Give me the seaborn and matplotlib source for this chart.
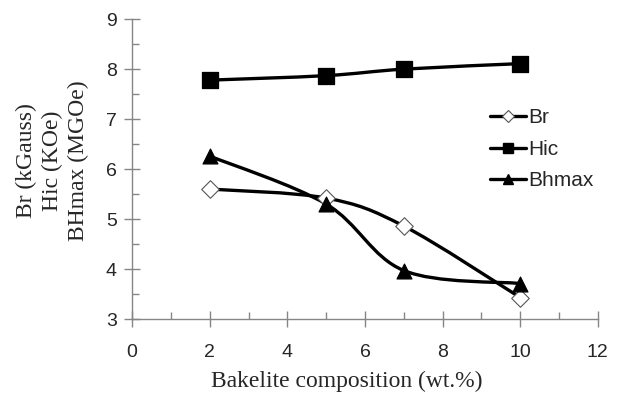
import numpy as np
import pandas as pd
import seaborn as sns
import matplotlib.pyplot as plt
from matplotlib.path import Path
from matplotlib.patches import PathPatch
from matplotlib.lines import Line2D
from matplotlib.ticker import MultipleLocator

# values
composition = [2, 5, 7, 10]
br = [5.6, 5.42, 4.86, 3.43]
hic = [7.78, 7.87, 8.0, 8.11]
bhmax = [6.26, 5.3, 3.97, 3.71]

df = pd.DataFrame({'Bakelite': composition, 'Br': br, 'Hic': hic, 'Bhmax': bhmax})

sns.set_style('white')
plt.rcParams['font.family'] = ['Liberation Sans', 'DejaVu Sans']

fig = plt.figure(figsize=(6.32, 3.99), dpi=100)
ax = fig.add_axes([0.209, 0.2005, 0.737, 0.7515])


def smooth_path(xs, ys):
    # Excel-style smoothed line: Catmull-Rom segments as cubic Beziers
    pts = np.column_stack([xs, ys]).astype(float)
    verts = [pts[0]]
    codes = [Path.MOVETO]
    n = len(pts)
    for i in range(n - 1):
        p0 = pts[max(i - 1, 0)]
        p1 = pts[i]
        p2 = pts[i + 1]
        p3 = pts[min(i + 2, n - 1)]
        c1 = p1 + (p2 - p0) / 6.0
        c2 = p2 - (p3 - p1) / 6.0
        verts += [c1, c2, p2]
        codes += [Path.CURVE4] * 3
    return Path(verts, codes)


for col in ['Br', 'Hic', 'Bhmax']:
    ax.add_patch(PathPatch(smooth_path(df['Bakelite'], df[col]), fill=False,
                           edgecolor='black', lw=2.4, zorder=2))

sns.scatterplot(data=df, x='Bakelite', y='Br', marker='D', s=80, color='white',
                edgecolor='#555555', linewidth=0.8, ax=ax, zorder=3)
sns.scatterplot(data=df, x='Bakelite', y='Hic', marker='s', s=135, color='black',
                edgecolor='black', ax=ax, zorder=3)
sns.scatterplot(data=df, x='Bakelite', y='Bhmax', marker='^', s=115, color='black',
                edgecolor='black', ax=ax, zorder=3)

ax.set_xlim(0, 12)
ax.set_ylim(3, 9)
ax.xaxis.set_major_locator(MultipleLocator(2))
ax.xaxis.set_minor_locator(MultipleLocator(1))
ax.yaxis.set_major_locator(MultipleLocator(1))
ax.yaxis.set_minor_locator(MultipleLocator(0.5))

for side in ['top', 'right']:
    ax.spines[side].set_visible(False)
for side in ['left', 'bottom']:
    ax.spines[side].set_color('#868686')
    ax.spines[side].set_linewidth(1.0)

ax.tick_params(which='major', direction='inout', length=12, width=1, color='#868686',
               labelsize=14)
ax.tick_params(axis='y', which='major', pad=5)
ax.tick_params(axis='x', which='major', pad=12)
ax.tick_params(which='minor', direction='in', length=5, width=1, color='#868686')
ax.tick_params(axis='both', which='both', bottom=True, left=True)

serif = {'family': ['Liberation Serif', 'DejaVu Serif'], 'size': 17}
ax.set_xlabel('Bakelite composition (wt.%)', fontdict=serif)
ax.set_ylabel('Br (kGauss)\nHic (KOe)\nBHmax (MGOe)', fontdict=serif,
              multialignment='center', linespacing=1.3)
ax.xaxis.set_label_coords(0.46, -0.172)
ax.yaxis.set_label_coords(-0.092, 0.527)

handles = [
    Line2D([], [], color='black', lw=2.4, marker='D', markersize=6.5,
           markerfacecolor='white', markeredgecolor='#555555', markeredgewidth=0.8),
    Line2D([], [], color='black', lw=2.4, marker='s', markersize=7.5,
           markerfacecolor='black'),
    Line2D([], [], color='black', lw=2.4, marker='^', markersize=7.5,
           markerfacecolor='black'),
]
ax.legend(handles, ['Br', 'Hic', 'Bhmax'], loc='upper left', bbox_to_anchor=(0.75, 0.73),
          frameon=False, fontsize=15, handlelength=1.75, handletextpad=0.1,
          labelspacing=0.6, borderaxespad=0)

fig.savefig('out.png', dpi=100)
